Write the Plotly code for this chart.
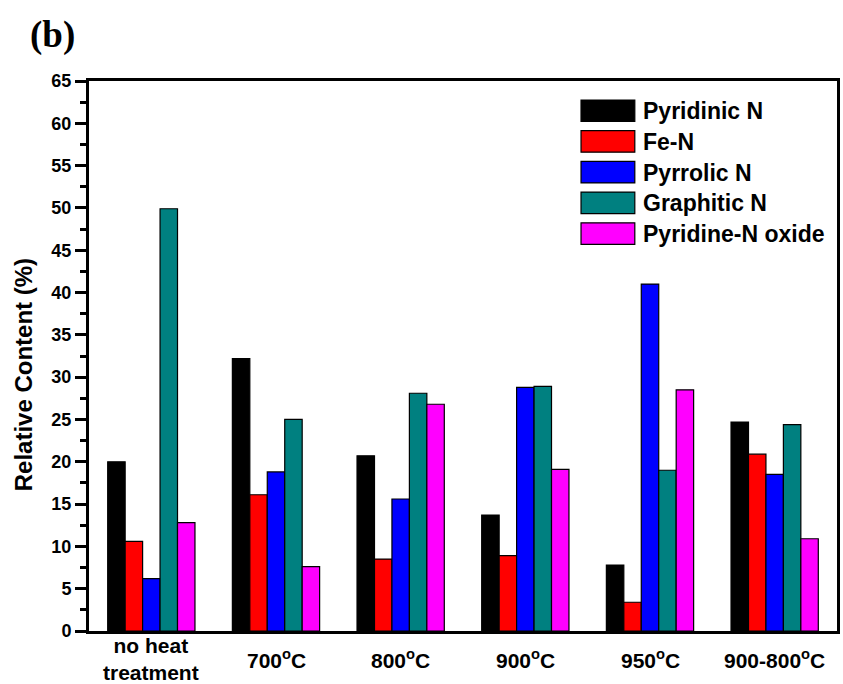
import plotly.graph_objects as go

# Nitrogen species content for each heat-treatment condition
conditions = ["no heat<br>treatment", "700<sup>o</sup>C", "800<sup>o</sup>C",
              "900<sup>o</sup>C", "950<sup>o</sup>C", "900-800<sup>o</sup>C"]
species = ["Pyridinic N", "Fe-N", "Pyrrolic N", "Graphitic N", "Pyridine-N oxide"]
pyridinic_n = [20.0, 32.2, 20.7, 13.7, 7.8, 24.7]
fe_n = [10.6, 16.1, 8.5, 8.9, 3.4, 20.9]
pyrrolic_n = [6.2, 18.8, 15.6, 28.8, 41.0, 18.5]
graphitic_n = [49.9, 25.0, 28.1, 28.9, 19.0, 24.4]
pyridine_n_oxide = [12.8, 7.6, 26.8, 19.1, 28.5, 10.9]
y_ticks = list(range(0, 66, 5))

series = [pyridinic_n, fe_n, pyrrolic_n, graphitic_n, pyridine_n_oxide]
colors = ["#000000", "#FF0000", "#0000FF", "#008080", "#FF00FF"]

W, H = 843, 684
L, R, T, B = 89, 840, 81, 631  # plot area in pixels


def px_x(p):
    return (p - L) / (R - L)


def px_y(p):
    return (B - p) / (B - T)


ARIAL = "Liberation Sans, Arial, sans-serif"

fig = go.Figure()
xs = list(range(len(conditions)))
for name, vals, col in zip(species, series, colors):
    fig.add_trace(go.Bar(
        x=xs, y=vals, name=name,
        marker=dict(color=col, line=dict(color="#000000", width=1.2)),
        showlegend=False,
    ))

annotations = []
shapes = []

# category labels under each group
for i, lab in enumerate(conditions):
    annotations.append(dict(
        x=i, xref="x", y=px_y(659), yref="paper", text=lab, showarrow=False,
        xanchor="center", yanchor="middle",
        font=dict(family=ARIAL, size=21, color="#000000", weight="bold"),
    ))

# y-axis title
annotations.append(dict(
    x=px_x(23), xref="paper", y=px_y(375), yref="paper",
    text="Relative Content (%)", textangle=-90, showarrow=False,
    xanchor="center", yanchor="middle",
    font=dict(family=ARIAL, size=24, color="#000000", weight="bold"),
))

# panel label
annotations.append(dict(
    x=px_x(28), xref="paper", y=px_y(35), yref="paper",
    text="(b)", showarrow=False, xanchor="left", yanchor="middle",
    font=dict(family="Liberation Serif, Times New Roman, serif", size=37,
              color="#000000", weight="bold"),
))

# legend: colour swatches with labels
row_top = 100
row_step = 30.7
for k, (name, col) in enumerate(zip(species, colors)):
    top = row_top + k * row_step
    bot = top + 21.5
    shapes.append(dict(
        type="rect", xref="paper", yref="paper",
        x0=px_x(583), x1=px_x(637), y0=px_y(bot), y1=px_y(top),
        fillcolor=col, line=dict(color="#000000", width=1.2),
    ))
    annotations.append(dict(
        x=px_x(643), xref="paper", y=px_y((top + bot) / 2 + 0.5), yref="paper",
        text=name, showarrow=False, xanchor="left", yanchor="middle",
        font=dict(family=ARIAL, size=23, color="#000000", weight="bold"),
    ))

fig.update_layout(
    width=W, height=H,
    margin=dict(l=L, r=W - R, t=T, b=H - B, pad=0),
    paper_bgcolor="white", plot_bgcolor="white",
    barmode="group", bargap=0.3, bargroupgap=0,
    annotations=annotations, shapes=shapes,
    showlegend=False,
)
fig.update_xaxes(
    range=[-0.5, len(conditions) - 0.5],
    showticklabels=False, ticks="",
    showline=True, linecolor="#000000", linewidth=3, mirror=True,
    showgrid=False, zeroline=False,
)
fig.update_yaxes(
    range=[0, 65], tickvals=y_ticks,
    ticks="outside", ticklen=11, tickwidth=2.5, tickcolor="#000000",
    minor=dict(dtick=2.5, ticks="outside", ticklen=6, tickwidth=2.5,
               tickcolor="#000000", showgrid=False),
    tickfont=dict(family=ARIAL, size=18, color="#000000", weight="bold"),
    showline=True, linecolor="#000000", linewidth=3, mirror=True,
    showgrid=False, zeroline=False,
)

fig.write_html("out.html")
